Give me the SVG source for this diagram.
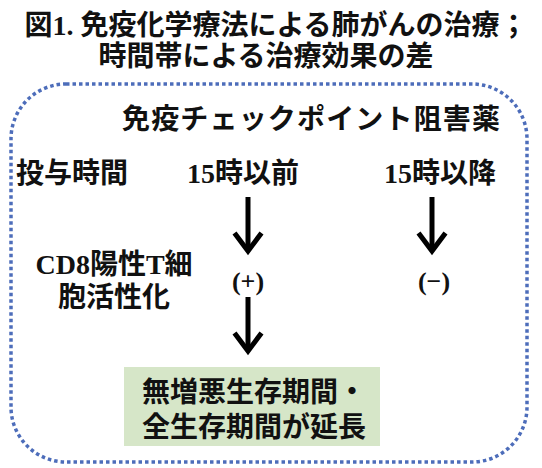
<svg xmlns="http://www.w3.org/2000/svg" width="542" height="468" viewBox="0 0 542 468">
<style>
text{font-family:"Liberation Serif","Noto Sans CJK JP",serif;font-weight:700;fill:#111;}
.t{font-size:28px;}
.m{font-size:28px;}
.s{font-size:26px;}
.arr{stroke:#000;stroke-width:5;fill:none;}
</style>
<defs>
<marker id="ah" markerUnits="userSpaceOnUse" orient="auto" markerWidth="40" markerHeight="40" viewBox="-25 -20 30 40" refX="0" refY="0" overflow="visible">
<path d="M -18 -13.5 L 0 0 L -18 13.5" stroke="#000" stroke-width="5" fill="none"/>
</marker>
</defs>
<rect width="542" height="468" fill="#fff"/>
<g id="title">
<text class="t" x="276" y="35" text-anchor="middle">図1. 免疫化学療法による肺がんの治療；</text>
<text class="t" x="266" y="66" text-anchor="middle">時間帯による治療効果の差</text>
</g>
<g id="frame">
<rect x="11" y="84" width="516" height="378" rx="55" ry="55" fill="none" stroke="#4D6DBA" stroke-width="3.5" stroke-dasharray="3.5 3"/>
<text class="m" x="122" y="129" textLength="378" lengthAdjust="spacing">免疫チェックポイント阻害薬</text>
</g>
<g id="label-time"><text class="m" x="16" y="183">投与時間</text></g>
<g id="before15"><text class="m" x="243" y="183" text-anchor="middle">15時以前</text></g>
<g id="after15"><text class="m" x="440" y="183" text-anchor="middle">15時以降</text></g>
<g id="label-cd8">
<text class="m" x="114" y="274" text-anchor="middle">CD8陽性T細</text>
<text class="m" x="114" y="307" text-anchor="middle">胞活性化</text>
</g>
<g id="plus"><text class="s" x="248" y="290" text-anchor="middle">(+)</text></g>
<g id="minus"><text class="s" x="434" y="290" text-anchor="middle">(−)</text></g>
<g id="result">
<rect x="124" y="367" width="256" height="79" fill="#D6E6C8"/>
<text class="m" x="142" y="402">無増悪生存期間・</text>
<text class="m" x="142" y="437">全生存期間が延長</text>
</g>
<g id="connectors">
<line class="arr" x1="248" y1="197" x2="248" y2="251" marker-end="url(#ah)"/>
<line class="arr" x1="432" y1="197" x2="432" y2="251" marker-end="url(#ah)"/>
<line class="arr" x1="248" y1="297" x2="248" y2="351" marker-end="url(#ah)"/>
</g>
</svg>
